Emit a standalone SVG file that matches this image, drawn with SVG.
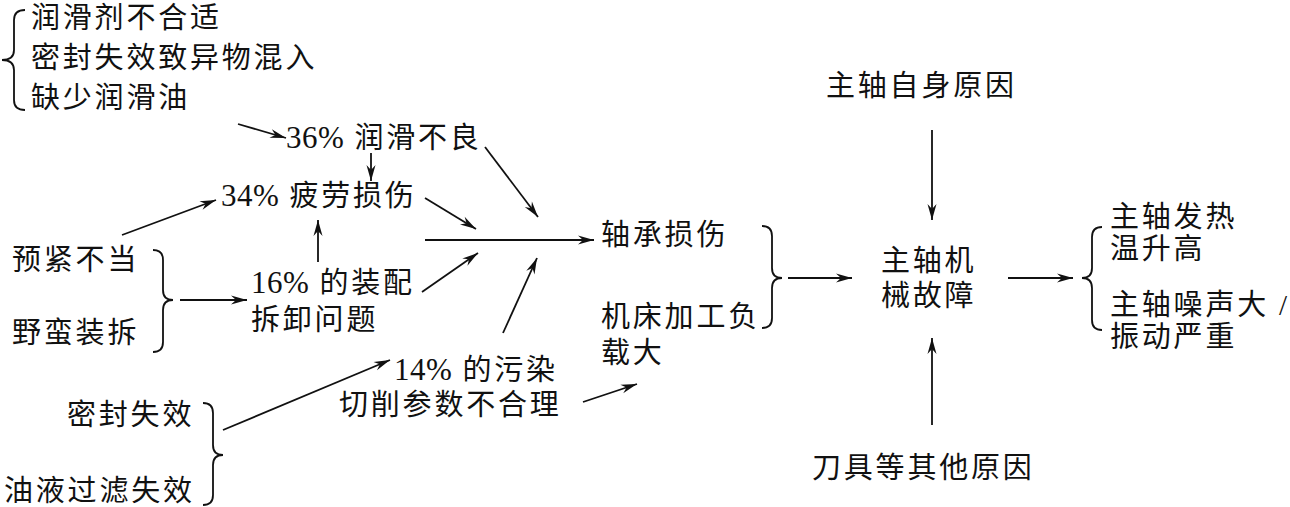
<svg xmlns="http://www.w3.org/2000/svg" width="1290" height="507" viewBox="0 0 1290 507">
<style>
text{font-family:"Liberation Serif","Noto Sans CJK SC",serif;font-size:29px;letter-spacing:2.8px;fill:#111}
.n{font-size:31px;letter-spacing:0.5px}
.c line{stroke:#111;stroke-width:1.8;marker-end:url(#ah)}
.b{fill:none;stroke:#111;stroke-width:1.8}
</style>
<defs>
<marker id="ah" viewBox="-17 -6 18 12" refX="0" refY="0" markerWidth="18" markerHeight="12" markerUnits="userSpaceOnUse" orient="auto">
<path d="M0,0 L-16,-4.5 L-11,0 L-16,4.5 Z" fill="#111"/>
</marker>
</defs>
<rect width="1290" height="507" fill="#fff"/>

<g id="lube-causes">
<path class="b" d="M25,10 Q14,10 14,20 L14,50 Q14,60 2,60 Q14,60 14,70 L14,100 Q14,110 25,110"/>
<text x="31" y="28">润滑剂不合适</text>
<text x="31" y="68">密封失效致异物混入</text>
<text x="31" y="108">缺少润滑油</text>
</g>
<g id="lube"><text x="286" y="148"><tspan class="n">36%</tspan> 润滑不良</text></g>
<g id="fatigue"><text x="221" y="206"><tspan class="n">34%</tspan> 疲劳损伤</text></g>
<g id="assembly-causes">
<text x="12" y="270">预紧不当</text>
<text x="12" y="343">野蛮装拆</text>
<path class="b" d="M153,250 Q163,250 163,260 L163,290 Q163,300 173,300 Q163,300 163,310 L163,342 Q163,352 153,352"/>
</g>
<g id="assembly">
<text x="251" y="293"><tspan class="n">16%</tspan> 的装配</text>
<text x="251" y="330">拆卸问题</text>
</g>
<g id="contam">
<text x="394" y="380"><tspan class="n">14%</tspan> 的污染</text>
</g>
<g id="cutting"><text x="339" y="415">切削参数不合理</text></g>
<g id="contam-causes">
<text x="67" y="425">密封失效</text>
<text x="4" y="501">油液过滤失效</text>
<path class="b" d="M203,403 Q213,403 213,413 L213,445 Q213,455 223,455 Q213,455 213,465 L213,495 Q213,505 203,505"/>
</g>
<g id="bearing"><text x="601" y="245">轴承损伤</text></g>
<g id="load">
<text x="601" y="327">机床加工负</text>
<text x="601" y="363">载大</text>
</g>
<g id="mid-brace">
<path class="b" d="M762,226 Q772,226 772,236 L772,268 Q772,278 782,278 Q772,278 772,288 L772,318 Q772,328 762,328"/>
</g>
<g id="spindle-self"><text x="826" y="96">主轴自身原因</text></g>
<g id="fault">
<text x="881" y="271">主轴机</text>
<text x="881" y="306">械故障</text>
</g>
<g id="tool"><text x="812" y="478">刀具等其他原因</text></g>
<g id="effects">
<path class="b" d="M1102,227 Q1092,227 1092,237 L1092,268 Q1092,278 1082,278 Q1092,278 1092,288 L1092,320 Q1092,330 1102,330"/>
<text x="1110" y="227">主轴发热</text>
<text x="1110" y="259">温升高</text>
<text x="1110" y="315">主轴噪声大 /</text>
<text x="1110" y="347">振动严重</text>
</g>

<g id="connectors" class="c">
<line x1="238" y1="124" x2="286" y2="138"/>
<line x1="371" y1="153" x2="371" y2="181"/>
<line x1="122" y1="235" x2="216" y2="200"/>
<line x1="318" y1="262" x2="318" y2="220"/>
<line x1="180" y1="300" x2="247" y2="300"/>
<line x1="485" y1="147" x2="538" y2="217"/>
<line x1="425" y1="198" x2="476" y2="229"/>
<line x1="425" y1="240" x2="594" y2="240"/>
<line x1="422" y1="292" x2="478" y2="253"/>
<line x1="503" y1="333" x2="537" y2="258"/>
<line x1="223" y1="430" x2="390" y2="360"/>
<line x1="583" y1="402" x2="637" y2="384"/>
<line x1="788" y1="278" x2="852" y2="278"/>
<line x1="932" y1="130" x2="932" y2="220"/>
<line x1="932" y1="425" x2="932" y2="338"/>
<line x1="1008" y1="278" x2="1073" y2="278"/>
</g>
</svg>
